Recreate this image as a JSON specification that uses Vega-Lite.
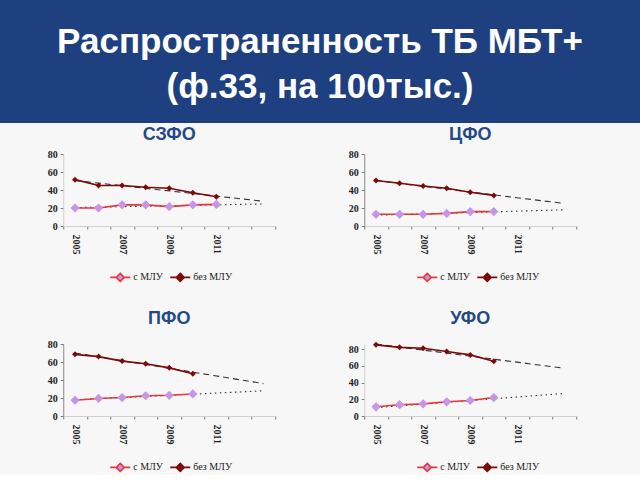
{
  "$schema": "https://vega.github.io/schema/vega-lite/v6.json",
  "padding": 0,
  "background": "#f7f7f7",
  "config": {"view": {"stroke": null}},
  "datasets": {
    "main": [
      {"region": "СЗФО", "kind": "obs", "series": "с МЛУ", "year": 2005, "value": 20},
      {"region": "СЗФО", "kind": "obs", "series": "с МЛУ", "year": 2006, "value": 20},
      {"region": "СЗФО", "kind": "obs", "series": "с МЛУ", "year": 2007, "value": 23.5},
      {"region": "СЗФО", "kind": "obs", "series": "с МЛУ", "year": 2008, "value": 23.5},
      {"region": "СЗФО", "kind": "obs", "series": "с МЛУ", "year": 2009, "value": 21.5},
      {"region": "СЗФО", "kind": "obs", "series": "с МЛУ", "year": 2010, "value": 23.5},
      {"region": "СЗФО", "kind": "obs", "series": "с МЛУ", "year": 2011, "value": 24},
      {"region": "СЗФО", "kind": "obs", "series": "без МЛУ", "year": 2005, "value": 51.5},
      {"region": "СЗФО", "kind": "obs", "series": "без МЛУ", "year": 2006, "value": 45},
      {"region": "СЗФО", "kind": "obs", "series": "без МЛУ", "year": 2007, "value": 45},
      {"region": "СЗФО", "kind": "obs", "series": "без МЛУ", "year": 2008, "value": 43},
      {"region": "СЗФО", "kind": "obs", "series": "без МЛУ", "year": 2009, "value": 42},
      {"region": "СЗФО", "kind": "obs", "series": "без МЛУ", "year": 2010, "value": 37},
      {"region": "СЗФО", "kind": "obs", "series": "без МЛУ", "year": 2011, "value": 32.5},
      {"region": "ЦФО", "kind": "obs", "series": "с МЛУ", "year": 2005, "value": 13},
      {"region": "ЦФО", "kind": "obs", "series": "с МЛУ", "year": 2006, "value": 13},
      {"region": "ЦФО", "kind": "obs", "series": "с МЛУ", "year": 2007, "value": 13},
      {"region": "ЦФО", "kind": "obs", "series": "с МЛУ", "year": 2008, "value": 14},
      {"region": "ЦФО", "kind": "obs", "series": "с МЛУ", "year": 2009, "value": 16},
      {"region": "ЦФО", "kind": "obs", "series": "с МЛУ", "year": 2010, "value": 16},
      {"region": "ЦФО", "kind": "obs", "series": "без МЛУ", "year": 2005, "value": 50.5},
      {"region": "ЦФО", "kind": "obs", "series": "без МЛУ", "year": 2006, "value": 47.5},
      {"region": "ЦФО", "kind": "obs", "series": "без МЛУ", "year": 2007, "value": 44.5},
      {"region": "ЦФО", "kind": "obs", "series": "без МЛУ", "year": 2008, "value": 42},
      {"region": "ЦФО", "kind": "obs", "series": "без МЛУ", "year": 2009, "value": 37.5},
      {"region": "ЦФО", "kind": "obs", "series": "без МЛУ", "year": 2010, "value": 34},
      {"region": "ПФО", "kind": "obs", "series": "с МЛУ", "year": 2005, "value": 17.5},
      {"region": "ПФО", "kind": "obs", "series": "с МЛУ", "year": 2006, "value": 19.5},
      {"region": "ПФО", "kind": "obs", "series": "с МЛУ", "year": 2007, "value": 20.5},
      {"region": "ПФО", "kind": "obs", "series": "с МЛУ", "year": 2008, "value": 22.5},
      {"region": "ПФО", "kind": "obs", "series": "с МЛУ", "year": 2009, "value": 23},
      {"region": "ПФО", "kind": "obs", "series": "с МЛУ", "year": 2010, "value": 24.5},
      {"region": "ПФО", "kind": "obs", "series": "без МЛУ", "year": 2005, "value": 68.5},
      {"region": "ПФО", "kind": "obs", "series": "без МЛУ", "year": 2006, "value": 66},
      {"region": "ПФО", "kind": "obs", "series": "без МЛУ", "year": 2007, "value": 61},
      {"region": "ПФО", "kind": "obs", "series": "без МЛУ", "year": 2008, "value": 58},
      {"region": "ПФО", "kind": "obs", "series": "без МЛУ", "year": 2009, "value": 53.5},
      {"region": "ПФО", "kind": "obs", "series": "без МЛУ", "year": 2010, "value": 47},
      {"region": "УФО", "kind": "obs", "series": "с МЛУ", "year": 2005, "value": 11},
      {"region": "УФО", "kind": "obs", "series": "с МЛУ", "year": 2006, "value": 13.5},
      {"region": "УФО", "kind": "obs", "series": "с МЛУ", "year": 2007, "value": 14.5},
      {"region": "УФО", "kind": "obs", "series": "с МЛУ", "year": 2008, "value": 17},
      {"region": "УФО", "kind": "obs", "series": "с МЛУ", "year": 2009, "value": 18.5},
      {"region": "УФО", "kind": "obs", "series": "с МЛУ", "year": 2010, "value": 22},
      {"region": "УФО", "kind": "obs", "series": "без МЛУ", "year": 2005, "value": 85},
      {"region": "УФО", "kind": "obs", "series": "без МЛУ", "year": 2006, "value": 82},
      {"region": "УФО", "kind": "obs", "series": "без МЛУ", "year": 2007, "value": 81},
      {"region": "УФО", "kind": "obs", "series": "без МЛУ", "year": 2008, "value": 77},
      {"region": "УФО", "kind": "obs", "series": "без МЛУ", "year": 2009, "value": 73},
      {"region": "УФО", "kind": "obs", "series": "без МЛУ", "year": 2010, "value": 65.5},
      {"region": "СЗФО", "kind": "trend", "series": "с МЛУ", "year": 2005, "value": 20.5},
      {"region": "СЗФО", "kind": "trend", "series": "с МЛУ", "year": 2013, "value": 24.5},
      {"region": "СЗФО", "kind": "trend", "series": "без МЛУ", "year": 2005, "value": 50.5},
      {"region": "СЗФО", "kind": "trend", "series": "без МЛУ", "year": 2013, "value": 27.5},
      {"region": "ЦФО", "kind": "trend", "series": "с МЛУ", "year": 2005, "value": 12},
      {"region": "ЦФО", "kind": "trend", "series": "с МЛУ", "year": 2013, "value": 18},
      {"region": "ЦФО", "kind": "trend", "series": "без МЛУ", "year": 2005, "value": 50.5},
      {"region": "ЦФО", "kind": "trend", "series": "без МЛУ", "year": 2013, "value": 25},
      {"region": "ПФО", "kind": "trend", "series": "с МЛУ", "year": 2005, "value": 18},
      {"region": "ПФО", "kind": "trend", "series": "с МЛУ", "year": 2013, "value": 28},
      {"region": "ПФО", "kind": "trend", "series": "без МЛУ", "year": 2005, "value": 70},
      {"region": "ПФО", "kind": "trend", "series": "без МЛУ", "year": 2013, "value": 36},
      {"region": "УФО", "kind": "trend", "series": "с МЛУ", "year": 2005, "value": 10},
      {"region": "УФО", "kind": "trend", "series": "с МЛУ", "year": 2013, "value": 27},
      {"region": "УФО", "kind": "trend", "series": "без МЛУ", "year": 2005, "value": 86},
      {"region": "УФО", "kind": "trend", "series": "без МЛУ", "year": 2013, "value": 57}
    ]
  },
  "resolve": {"scale": {"fill": "independent", "stroke": "independent"}, "legend": {"fill": "independent", "stroke": "independent"}},
  "vconcat": [
    {
      "width": 640,
      "height": 123,
      "view": {"fill": "#1e4080", "stroke": null},
      "data": {"values": [
        {"line": 1, "text": "Распространенность ТБ МБТ+"},
        {"line": 2, "text": "(ф.33, на 100тыс.)"}
      ]},
      "mark": {"type": "text", "color": "#ffffff", "font": "Liberation Sans", "fontWeight": "bold", "fontSize": 35, "baseline": "middle", "dy": 3},
      "encoding": {
        "y": {"field": "line", "type": "ordinal", "axis": null, "scale": {"type": "point", "padding": 0.84}},
        "text": {"field": "text", "type": "nominal"}
      }
    },
    {
      "spacing": 24,
      "resolve": {"scale": {"fill": "independent", "stroke": "independent"}, "legend": {"fill": "independent", "stroke": "independent"}},
      "vconcat": [
        {
          "spacing": 72,
          "resolve": {"scale": {"fill": "independent", "stroke": "independent"}, "legend": {"fill": "independent", "stroke": "independent"}},
          "hconcat": [
            {
              "width": 212, "height": 72,
              "title": {"text": "СЗФО", "font": "Liberation Sans", "fontSize": 18, "fontWeight": "bold", "color": "#234a86", "offset": 5},
              "data": {"name": "main"},
              "transform": [{"filter": {"field": "region", "equal": "СЗФО"}}],
              "encoding": {
                "x": {"field": "year", "type": "ordinal", "title": null, "scale": {"type": "band", "domain": [2005, 2006, 2007, 2008, 2009, 2010, 2011, 2012, 2013], "paddingInner": 0, "paddingOuter": 0}, "axis": {"tickBand": "extent", "labelAngle": 90, "labelExpr": "datum.value % 2 == 1 && datum.value < 2012 ? datum.label : ''", "labelFont": "Liberation Serif", "labelFontSize": 10, "labelFontWeight": "bold", "labelColor": "#222222", "tickColor": "#777777", "tickSize": 3, "domainColor": "#d0d0d0", "labelPadding": 5, "labelOverlap": false}},
                "y": {"field": "value", "type": "quantitative", "title": null, "scale": {"domain": [0, 80], "nice": false}, "axis": {"values": [0, 20, 40, 60, 80], "grid": false, "tickSize": 3, "labelOverlap": false, "labelFont": "Liberation Serif", "labelFontSize": 10, "labelFontWeight": "bold", "labelColor": "#222222", "domainColor": "#d0d0d0", "tickColor": "#777777", "labelPadding": 3}}
              },
              "layer": [
                {
                  "transform": [{"filter": {"field": "kind", "equal": "trend"}}],
                  "mark": {"type": "line", "color": "#333333", "strokeWidth": 1.1},
                  "encoding": {
                    "detail": {"field": "series", "type": "nominal"},
                    "strokeDash": {"condition": {"test": "datum.series == 'с МЛУ'", "value": [1.5, 3.5]}, "value": [6, 4]}
                  }
                },
                {
                  "transform": [{"filter": {"field": "kind", "equal": "obs"}}],
                  "mark": {"type": "line", "strokeWidth": 1.6},
                  "encoding": {
                    "stroke": {"field": "series", "type": "nominal", "scale": {"domain": ["с МЛУ", "без МЛУ"], "range": ["#e5383b", "#7b0a0a"]}, "legend": {"title": null, "orient": "none", "legendX": 46, "legendY": 112, "direction": "horizontal", "symbolType": "M-1,0H-0.4M0.4,0H1M0,-0.4L0.4,0L0,0.4L-0.4,0Z", "symbolSize": 400, "symbolStrokeWidth": 1.6, "labelFont": "Liberation Serif", "labelFontSize": 10, "labelColor": "#222222", "columnPadding": 3, "labelOffset": 2}}
                  }
                },
                {
                  "transform": [{"filter": {"field": "kind", "equal": "obs"}}],
                  "mark": {"type": "point", "shape": "diamond", "filled": true, "opacity": 1},
                  "encoding": {
                    "fill": {"field": "series", "type": "nominal", "scale": {"domain": ["с МЛУ", "без МЛУ"], "range": ["#c795e6", "#7b0a0a"]}, "legend": {"title": null, "orient": "none", "legendX": 46, "legendY": 112, "direction": "horizontal", "symbolType": "M-1,0H-0.4M0.4,0H1M0,-0.4L0.4,0L0,0.4L-0.4,0Z", "symbolSize": 400, "symbolStrokeWidth": 1.6, "labelFont": "Liberation Serif", "labelFontSize": 10, "labelColor": "#222222", "columnPadding": 3, "labelOffset": 2}},
                    "size": {"condition": {"test": "datum.series == 'с МЛУ'", "value": 85}, "value": 36}
                  }
                }
              ]
            },
            {
              "width": 212, "height": 72,
              "title": {"text": "ЦФО", "font": "Liberation Sans", "fontSize": 18, "fontWeight": "bold", "color": "#234a86", "offset": 5},
              "data": {"name": "main"},
              "transform": [{"filter": {"field": "region", "equal": "ЦФО"}}],
              "encoding": {
                "x": {"field": "year", "type": "ordinal", "title": null, "scale": {"type": "band", "domain": [2005, 2006, 2007, 2008, 2009, 2010, 2011, 2012, 2013], "paddingInner": 0, "paddingOuter": 0}, "axis": {"tickBand": "extent", "labelAngle": 90, "labelExpr": "datum.value % 2 == 1 && datum.value < 2012 ? datum.label : ''", "labelFont": "Liberation Serif", "labelFontSize": 10, "labelFontWeight": "bold", "labelColor": "#222222", "tickColor": "#777777", "tickSize": 3, "domainColor": "#d0d0d0", "labelPadding": 5, "labelOverlap": false}},
                "y": {"field": "value", "type": "quantitative", "title": null, "scale": {"domain": [0, 80], "nice": false}, "axis": {"values": [0, 20, 40, 60, 80], "grid": false, "tickSize": 3, "labelOverlap": false, "labelFont": "Liberation Serif", "labelFontSize": 10, "labelFontWeight": "bold", "labelColor": "#222222", "domainColor": "#888888", "tickColor": "#777777", "labelPadding": 3}}
              },
              "layer": [
                {
                  "transform": [{"filter": {"field": "kind", "equal": "trend"}}],
                  "mark": {"type": "line", "color": "#333333", "strokeWidth": 1.1},
                  "encoding": {
                    "detail": {"field": "series", "type": "nominal"},
                    "strokeDash": {"condition": {"test": "datum.series == 'с МЛУ'", "value": [1.5, 3.5]}, "value": [6, 4]}
                  }
                },
                {
                  "transform": [{"filter": {"field": "kind", "equal": "obs"}}],
                  "mark": {"type": "line", "strokeWidth": 1.6},
                  "encoding": {
                    "stroke": {"field": "series", "type": "nominal", "scale": {"domain": ["с МЛУ", "без МЛУ"], "range": ["#e5383b", "#7b0a0a"]}, "legend": {"title": null, "orient": "none", "legendX": 52, "legendY": 112, "direction": "horizontal", "symbolType": "M-1,0H-0.4M0.4,0H1M0,-0.4L0.4,0L0,0.4L-0.4,0Z", "symbolSize": 400, "symbolStrokeWidth": 1.6, "labelFont": "Liberation Serif", "labelFontSize": 10, "labelColor": "#222222", "columnPadding": 3, "labelOffset": 2}}
                  }
                },
                {
                  "transform": [{"filter": {"field": "kind", "equal": "obs"}}],
                  "mark": {"type": "point", "shape": "diamond", "filled": true, "opacity": 1},
                  "encoding": {
                    "fill": {"field": "series", "type": "nominal", "scale": {"domain": ["с МЛУ", "без МЛУ"], "range": ["#c795e6", "#7b0a0a"]}, "legend": {"title": null, "orient": "none", "legendX": 52, "legendY": 112, "direction": "horizontal", "symbolType": "M-1,0H-0.4M0.4,0H1M0,-0.4L0.4,0L0,0.4L-0.4,0Z", "symbolSize": 400, "symbolStrokeWidth": 1.6, "labelFont": "Liberation Serif", "labelFontSize": 10, "labelColor": "#222222", "columnPadding": 3, "labelOffset": 2}},
                    "size": {"condition": {"test": "datum.series == 'с МЛУ'", "value": 85}, "value": 36}
                  }
                }
              ]
            }
          ]
        },
        {
          "spacing": 72,
          "resolve": {"scale": {"fill": "independent", "stroke": "independent"}, "legend": {"fill": "independent", "stroke": "independent"}},
          "hconcat": [
            {
              "width": 212, "height": 72,
              "title": {"text": "ПФО", "font": "Liberation Sans", "fontSize": 18, "fontWeight": "bold", "color": "#234a86", "offset": 11},
              "data": {"name": "main"},
              "transform": [{"filter": {"field": "region", "equal": "ПФО"}}],
              "encoding": {
                "x": {"field": "year", "type": "ordinal", "title": null, "scale": {"type": "band", "domain": [2005, 2006, 2007, 2008, 2009, 2010, 2011, 2012, 2013], "paddingInner": 0, "paddingOuter": 0}, "axis": {"tickBand": "extent", "labelAngle": 90, "labelExpr": "datum.value % 2 == 1 && datum.value < 2012 ? datum.label : ''", "labelFont": "Liberation Serif", "labelFontSize": 10, "labelFontWeight": "bold", "labelColor": "#222222", "tickColor": "#777777", "tickSize": 3, "domainColor": "#d0d0d0", "labelPadding": 5, "labelOverlap": false}},
                "y": {"field": "value", "type": "quantitative", "title": null, "scale": {"domain": [0, 80], "nice": false}, "axis": {"values": [0, 20, 40, 60, 80], "grid": false, "tickSize": 3, "labelOverlap": false, "labelFont": "Liberation Serif", "labelFontSize": 10, "labelFontWeight": "bold", "labelColor": "#222222", "domainColor": "#888888", "tickColor": "#777777", "labelPadding": 3}}
              },
              "layer": [
                {
                  "transform": [{"filter": {"field": "kind", "equal": "trend"}}],
                  "mark": {"type": "line", "color": "#333333", "strokeWidth": 1.1},
                  "encoding": {
                    "detail": {"field": "series", "type": "nominal"},
                    "strokeDash": {"condition": {"test": "datum.series == 'с МЛУ'", "value": [1.5, 3.5]}, "value": [6, 4]}
                  }
                },
                {
                  "transform": [{"filter": {"field": "kind", "equal": "obs"}}],
                  "mark": {"type": "line", "strokeWidth": 1.6},
                  "encoding": {
                    "stroke": {"field": "series", "type": "nominal", "scale": {"domain": ["с МЛУ", "без МЛУ"], "range": ["#e5383b", "#7b0a0a"]}, "legend": {"title": null, "orient": "none", "legendX": 46, "legendY": 112, "direction": "horizontal", "symbolType": "M-1,0H-0.4M0.4,0H1M0,-0.4L0.4,0L0,0.4L-0.4,0Z", "symbolSize": 400, "symbolStrokeWidth": 1.6, "labelFont": "Liberation Serif", "labelFontSize": 10, "labelColor": "#222222", "columnPadding": 3, "labelOffset": 2}}
                  }
                },
                {
                  "transform": [{"filter": {"field": "kind", "equal": "obs"}}],
                  "mark": {"type": "point", "shape": "diamond", "filled": true, "opacity": 1},
                  "encoding": {
                    "fill": {"field": "series", "type": "nominal", "scale": {"domain": ["с МЛУ", "без МЛУ"], "range": ["#c795e6", "#7b0a0a"]}, "legend": {"title": null, "orient": "none", "legendX": 46, "legendY": 112, "direction": "horizontal", "symbolType": "M-1,0H-0.4M0.4,0H1M0,-0.4L0.4,0L0,0.4L-0.4,0Z", "symbolSize": 400, "symbolStrokeWidth": 1.6, "labelFont": "Liberation Serif", "labelFontSize": 10, "labelColor": "#222222", "columnPadding": 3, "labelOffset": 2}},
                    "size": {"condition": {"test": "datum.series == 'с МЛУ'", "value": 85}, "value": 36}
                  }
                }
              ]
            },
            {
              "width": 212, "height": 72,
              "title": {"text": "УФО", "font": "Liberation Sans", "fontSize": 18, "fontWeight": "bold", "color": "#234a86", "offset": 14},
              "data": {"name": "main"},
              "transform": [{"filter": {"field": "region", "equal": "УФО"}}],
              "encoding": {
                "x": {"field": "year", "type": "ordinal", "title": null, "scale": {"type": "band", "domain": [2005, 2006, 2007, 2008, 2009, 2010, 2011, 2012, 2013], "paddingInner": 0, "paddingOuter": 0}, "axis": {"tickBand": "extent", "labelAngle": 90, "labelExpr": "datum.value % 2 == 1 && datum.value < 2012 ? datum.label : ''", "labelFont": "Liberation Serif", "labelFontSize": 10, "labelFontWeight": "bold", "labelColor": "#222222", "tickColor": "#777777", "tickSize": 3, "domainColor": "#d0d0d0", "labelPadding": 5, "labelOverlap": false}},
                "y": {"field": "value", "type": "quantitative", "title": null, "scale": {"domain": [0, 86], "nice": false}, "axis": {"values": [0, 20, 40, 60, 80], "grid": false, "tickSize": 3, "labelOverlap": false, "labelFont": "Liberation Serif", "labelFontSize": 10, "labelFontWeight": "bold", "labelColor": "#222222", "domainColor": "#d0d0d0", "tickColor": "#777777", "labelPadding": 3}}
              },
              "layer": [
                {
                  "transform": [{"filter": {"field": "kind", "equal": "trend"}}],
                  "mark": {"type": "line", "color": "#333333", "strokeWidth": 1.1},
                  "encoding": {
                    "detail": {"field": "series", "type": "nominal"},
                    "strokeDash": {"condition": {"test": "datum.series == 'с МЛУ'", "value": [1.5, 3.5]}, "value": [6, 4]}
                  }
                },
                {
                  "transform": [{"filter": {"field": "kind", "equal": "obs"}}],
                  "mark": {"type": "line", "strokeWidth": 1.6},
                  "encoding": {
                    "stroke": {"field": "series", "type": "nominal", "scale": {"domain": ["с МЛУ", "без МЛУ"], "range": ["#e5383b", "#7b0a0a"]}, "legend": {"title": null, "orient": "none", "legendX": 52, "legendY": 112, "direction": "horizontal", "symbolType": "M-1,0H-0.4M0.4,0H1M0,-0.4L0.4,0L0,0.4L-0.4,0Z", "symbolSize": 400, "symbolStrokeWidth": 1.6, "labelFont": "Liberation Serif", "labelFontSize": 10, "labelColor": "#222222", "columnPadding": 3, "labelOffset": 2}}
                  }
                },
                {
                  "transform": [{"filter": {"field": "kind", "equal": "obs"}}],
                  "mark": {"type": "point", "shape": "diamond", "filled": true, "opacity": 1},
                  "encoding": {
                    "fill": {"field": "series", "type": "nominal", "scale": {"domain": ["с МЛУ", "без МЛУ"], "range": ["#c795e6", "#7b0a0a"]}, "legend": {"title": null, "orient": "none", "legendX": 52, "legendY": 112, "direction": "horizontal", "symbolType": "M-1,0H-0.4M0.4,0H1M0,-0.4L0.4,0L0,0.4L-0.4,0Z", "symbolSize": 400, "symbolStrokeWidth": 1.6, "labelFont": "Liberation Serif", "labelFontSize": 10, "labelColor": "#222222", "columnPadding": 3, "labelOffset": 2}},
                    "size": {"condition": {"test": "datum.series == 'с МЛУ'", "value": 85}, "value": 36}
                  }
                }
              ]
            }
          ]
        }
      ]
    }
  ],
  "spacing": 3,
  "center": true
}
